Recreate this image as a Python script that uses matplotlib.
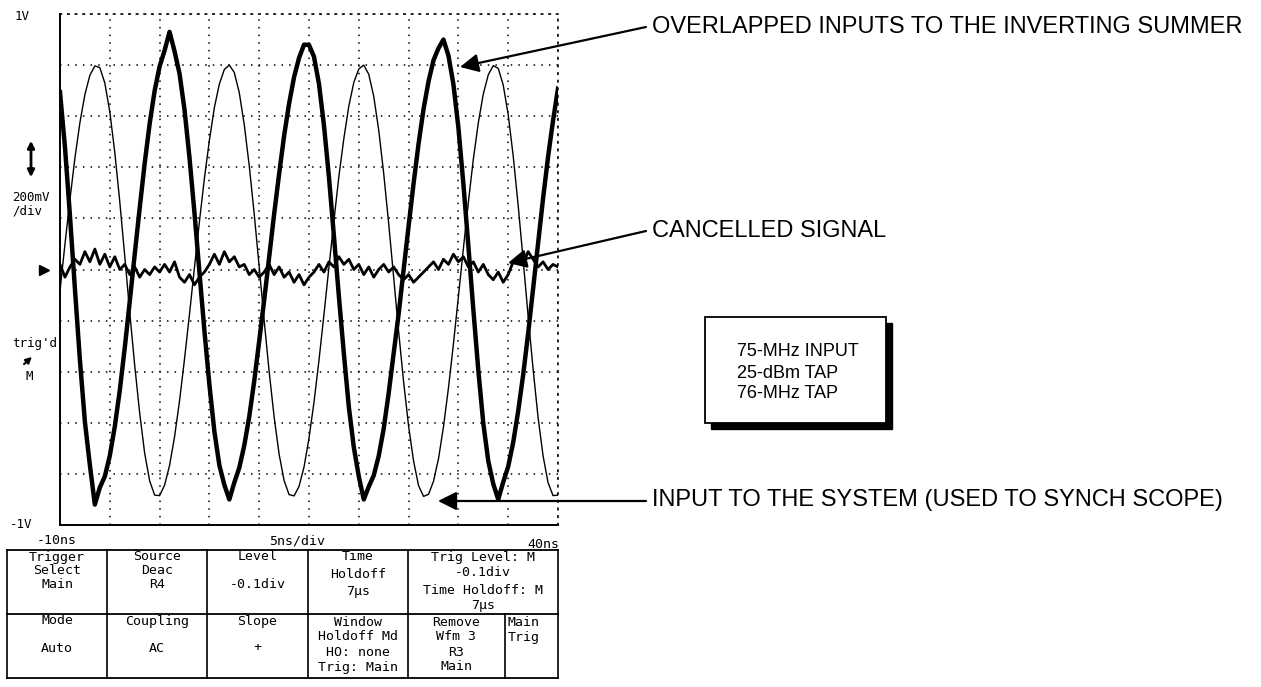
import numpy as np
import matplotlib
matplotlib.use("Agg")
import matplotlib.pyplot as plt
from matplotlib.patches import Rectangle
from matplotlib.transforms import blended_transform_factory

# ---------------- data ----------------
time_start_ns = -10.0
time_step_ns = 0.5

input_signal_v = [
    -0.084, 0.10, 0.274, 0.437, 0.575, 0.685, 0.76, 0.797,
    0.79, 0.73, 0.617, 0.459, 0.266, 0.053, -0.167, -0.375, -0.562, -0.719, -0.827, -0.883,
    -0.885, -0.844, -0.767, -0.655, -0.515, -0.351, -0.175, 0.008, 0.188, 0.357, 0.506, 0.634, 0.726, 0.783,
    0.80, 0.771, 0.692, 0.567, 0.406, 0.217, 0.011, -0.200, -0.400, -0.577, -0.723, -0.826, -0.881,
    -0.886, -0.849, -0.773, -0.660, -0.520, -0.356, -0.177, 0.008, 0.190, 0.364, 0.513, 0.640, 0.732, 0.785,
    0.80, 0.764, 0.678, 0.545, 0.376, 0.180, -0.030, -0.243, -0.440, -0.613, -0.750, -0.846, -0.888,
    -0.880, -0.829, -0.741, -0.616, -0.464, -0.292, -0.106, 0.082, 0.263, 0.432, 0.574, 0.687, 0.762, 0.798,
    0.787, 0.722, 0.606, 0.445, 0.251, 0.038, -0.182, -0.390, -0.579, -0.729, -0.834, -0.885, -0.883,
]

overlapped_inputs_v = [
    0.694, 0.478, 0.210, -0.077, -0.355, -0.596, -0.766, -0.92,
    -0.853, -0.810, -0.729, -0.615, -0.474, -0.307, -0.126, 0.059, 0.240, 0.415, 0.570, 0.699, 0.795, 0.857, 0.93,
    0.854, 0.767, 0.626, 0.438, 0.222, -0.011, -0.240, -0.451, -0.634, -0.766, -0.843,
    -0.90, -0.834, -0.776, -0.689, -0.576, -0.437, -0.280, -0.120, 0.048, 0.217, 0.374, 0.523, 0.649, 0.753, 0.828, 0.88,
    0.879, 0.833, 0.727, 0.565, 0.363, 0.132, -0.105, -0.329, -0.538, -0.696, -0.810, -0.90,
    -0.850, -0.806, -0.730, -0.623, -0.484, -0.328, -0.174, -0.001, 0.170, 0.337, 0.492, 0.628, 0.736, 0.819, 0.866,
    0.90, 0.837, 0.725, 0.555, 0.335, 0.092, -0.157, -0.395, -0.602, -0.750, -0.839,
    -0.90, -0.832, -0.771, -0.677, -0.555, -0.413, -0.251, -0.075, 0.102, 0.278, 0.440, 0.582, 0.708,
]

cancelled_signal_v = [
    0.02, -0.03, 0.01, 0.04, 0.02, 0.07, 0.03, 0.08, 0.02, 0.06,
    0.01, 0.05, 0.0, 0.02, -0.02, 0.01, -0.03, 0.0, -0.02, 0.01,
    -0.01, 0.02, -0.01, 0.03, -0.03, -0.05, -0.02, -0.06, -0.03, -0.01,
    0.02, 0.06, 0.02, 0.07, 0.03, 0.05, 0.01, 0.02, -0.02, 0.0,
    -0.03, -0.01, 0.02, -0.02, 0.01, -0.03, -0.01, -0.05, -0.02, -0.06,
    -0.03, -0.01, 0.02, -0.01, 0.03, 0.01, 0.05, 0.02, 0.04, 0.0,
    0.02, -0.02, 0.01, -0.03, 0.0, 0.02, -0.01, 0.01, -0.02, -0.04,
    -0.02, -0.05, -0.03, -0.01, 0.01, 0.03, 0.0, 0.04, 0.02, 0.06,
    0.03, 0.05, 0.01, 0.03, -0.01, 0.02, -0.02, -0.04, -0.01, -0.05,
    -0.02, 0.03, 0.05, 0.02, 0.07, 0.04, 0.01, 0.03, 0.0, 0.02,
    0.01,
]

ground_level_v = 0.0
x_range_ns = (-10, 40)
y_range_v = (-1, 1)
ns_per_div = 5
v_per_div = 0.2

x_labels = ["-10ns", "5ns/div", "40ns"]
y_top_label, y_bottom_label = "1V", "-1V"
scale_label = "200mV\n/div"
trig_label = "trig'd"

callout_texts = [
    "OVERLAPPED INPUTS TO THE INVERTING SUMMER",
    "CANCELLED SIGNAL",
    "INPUT TO THE SYSTEM (USED TO SYNCH SCOPE)",
]
box_lines = ["75-MHz INPUT", "25-dBm TAP", "76-MHz TAP"]

menu_row1 = [
    ["Trigger", "Select", "Main"],
    ["Source", "Deac", "R4"],
    ["Level", "", "-0.1div"],
    ["Time", "Holdoff", "7\u00b5s"],
    ["Trig Level: M", "-0.1div", "Time Holdoff: M", "7\u00b5s"],
]
menu_row2 = [
    ["Mode", "", "Auto"],
    ["Coupling", "", "AC"],
    ["Slope", "", "+"],
    ["Window", "Holdoff Md", "HO: none", "Trig: Main"],
    ["Remove", "Wfm 3", "R3", "Main"],
    ["Main", "Trig"],
]

# ---------------- figure ----------------
W, H = 1261, 687
fig = plt.figure(figsize=(W / 100, H / 100), dpi=100)
fig.patch.set_facecolor("white")

ax = fig.add_axes([60 / W, 1 - 525 / H, 498 / W, 511 / H])
t = time_start_ns + time_step_ns * np.arange(len(input_signal_v))

ax.set_xlim(*x_range_ns)
ax.set_ylim(*y_range_v)
ax.set_xticks(np.arange(x_range_ns[0], x_range_ns[1] + 0.1, ns_per_div))
ax.set_yticks(np.arange(y_range_v[0], y_range_v[1] + 0.01, v_per_div))
ax.tick_params(length=0, labelleft=False, labelbottom=False)
ax.grid(True, color="black", linestyle=(0, (1, 4)), linewidth=1.1)
for side in ("top", "right"):
    ax.spines[side].set_linestyle((0, (1, 4)))
    ax.spines[side].set_linewidth(1.1)
for side in ("left", "bottom"):
    ax.spines[side].set_linewidth(1.4)

ax.plot(t, input_signal_v, color="black", lw=1.0, zorder=3)
ax.plot(t, overlapped_inputs_v, color="black", lw=3.2, zorder=4)
ax.plot(t, cancelled_signal_v, color="black", lw=2.0, zorder=5)

# ground marker at the left of the graticule
bt = blended_transform_factory(ax.transAxes, ax.transData)
ax.plot([-0.032], [ground_level_v], transform=bt, marker=">", ms=7, color="black",
        clip_on=False)

# ---------------- overlay in pixel coordinates ----------------
ov = fig.add_axes([0, 0, 1, 1])
ov.set_xlim(0, W)
ov.set_ylim(H, 0)
ov.axis("off")
ov.patch.set_alpha(0)

mono = dict(family="DejaVu Sans Mono", color="black")
ov.text(15, 16, y_top_label, fontsize=9, va="center", ha="left", **mono)
ov.text(10, 524, y_bottom_label, fontsize=9, va="center", ha="left", **mono)
ov.annotate("", xy=(31, 138), xytext=(31, 180),
            arrowprops=dict(arrowstyle="<|-|>", lw=2, color="black", mutation_scale=10))
ov.text(12, 204, scale_label, fontsize=9, va="center", ha="left", linespacing=1.0, **mono)
ov.text(12, 344, trig_label, fontsize=9, va="center", ha="left", **mono)
ov.annotate("", xy=(34, 355), xytext=(22, 366),
            arrowprops=dict(arrowstyle="-|>", lw=1.5, color="black", mutation_scale=9))
ov.text(29, 376, "M", fontsize=9, va="center", ha="center", **mono)

ov.text(57, 541, x_labels[0], fontsize=9.5, va="center", ha="center", **mono)
ov.text(297, 541, x_labels[1], fontsize=9.5, va="center", ha="center", **mono)
ov.text(543, 545, x_labels[2], fontsize=9.5, va="center", ha="center", **mono)

# menu table
tbl_top, tbl_mid, tbl_bot = 550, 614, 678
col_x = [7, 107, 207, 308, 408, 558]
row2_x = [7, 107, 207, 308, 408, 505, 558]
ov.plot([col_x[0], col_x[-1]], [tbl_top, tbl_top], color="black", lw=1.3)
ov.plot([col_x[0], col_x[-1]], [tbl_mid, tbl_mid], color="black", lw=1.3)
ov.plot([col_x[0], col_x[-1]], [tbl_bot, tbl_bot], color="black", lw=1.3)
for x in col_x:
    ov.plot([x, x], [tbl_top, tbl_mid], color="black", lw=1.2)
for x in row2_x:
    ov.plot([x, x], [tbl_mid, tbl_bot], color="black", lw=1.2)

row1_y = [[557, 570, 584], [557, 570, 584], [557, 570, 585], [557, 574, 592],
          [557, 572, 590, 606]]
row2_y = [[621, 634, 648], [621, 634, 648], [621, 634, 648], [622, 637, 653, 667],
          [622, 637, 653, 667], [622, 637]]
fs_tbl = 9.5
for i, lines in enumerate(menu_row1):
    cx = (col_x[i] + col_x[i + 1]) / 2
    for s, y in zip(lines, row1_y[i]):
        ov.text(cx, y, s, fontsize=fs_tbl, va="center", ha="center", **mono)
for i, lines in enumerate(menu_row2):
    if i == 5:
        for s, y in zip(lines, row2_y[i]):
            ov.text(row2_x[i] + 3, y, s, fontsize=fs_tbl, va="center", ha="left", **mono)
        continue
    cx = (row2_x[i] + row2_x[i + 1]) / 2
    for s, y in zip(lines, row2_y[i]):
        ov.text(cx, y, s, fontsize=fs_tbl, va="center", ha="center", **mono)

# callouts
sans = dict(family="Liberation Sans", color="black")
ov.text(652, 27, callout_texts[0], fontsize=17, va="center", ha="left", **sans)
ov.text(652, 231, callout_texts[1], fontsize=17, va="center", ha="left", **sans)
ov.text(652, 500, callout_texts[2], fontsize=17, va="center", ha="left", **sans)
arrow_kw = dict(arrowstyle="-|>", lw=1.6, color="black", mutation_scale=28,
                shrinkA=0, shrinkB=0)
ov.annotate("", xy=(460, 67), xytext=(646, 27), arrowprops=arrow_kw)
ov.annotate("", xy=(508, 263), xytext=(646, 231), arrowprops=arrow_kw)
ov.annotate("", xy=(438, 501), xytext=(646, 501), arrowprops=arrow_kw)

# info box with shadow
ov.add_patch(Rectangle((711, 323), 181, 106, facecolor="black", edgecolor="black", zorder=5))
ov.add_patch(Rectangle((705, 317), 181, 106, facecolor="white", edgecolor="black",
                       lw=1.3, zorder=6))
for s, y in zip(box_lines, [352, 373, 394]):
    ov.text(737, y, s, fontsize=13, va="center", ha="left", zorder=7, **sans)

fig.savefig("out.png", dpi=100)
